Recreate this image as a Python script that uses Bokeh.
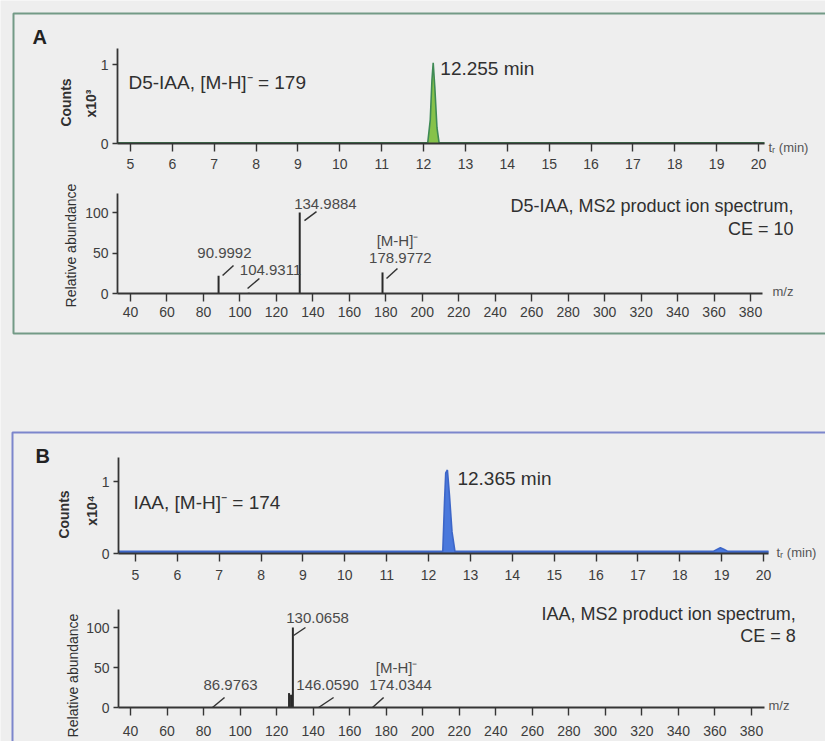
from bokeh.plotting import figure
from bokeh.models import Range1d, LinearAxis, FixedTicker, ColumnDataSource
from bokeh.core.properties import value
from bokeh.embed import file_html
from bokeh.resources import INLINE

# ---------------- data ----------------
# Panel A : D5-IAA chromatogram (Counts x10^3)
chromA_time = [4.69, 12.10, 12.16, 12.20, 12.23, 12.27, 12.32, 12.37, 20.14]
chromA_counts = [0.01, 0.01, 0.30, 0.80, 1.02, 0.70, 0.20, 0.01, 0.01]
# Panel A : MS2 product ion spectrum
specA_mz = [88.3, 104.9, 132.8, 178.2]
specA_rel = [22, 0.8, 100, 26]
specA_label_text = ["90.9992", "104.9311", "134.9884", "[M-H]⁻", "178.9772"]
specA_label_mz = [91.5, 116.8, 146.9, 186.4, 188.0]
specA_label_rel = [50.6, 29.6, 111.0, 65.4, 44.4]
specA_lead_mz0 = [90.5, 104.2, 135.4, 180.4]
specA_lead_rel0 = [22.2, 6.2, 90.0, 18.5]
specA_lead_mz1 = [96.5, 110.7, 142.0, 186.4]
specA_lead_rel1 = [34.6, 18.5, 101.0, 30.9]

# Panel B : IAA chromatogram (Counts x10^4)
chromB_time = [4.60, 12.34, 12.38, 12.41, 12.45, 12.50, 12.56, 12.63,
               18.80, 18.90, 18.97, 19.05, 19.15, 20.12]
chromB_counts = [0.03, 0.03, 0.70, 1.12, 1.16, 0.80, 0.30, 0.03,
                 0.03, 0.06, 0.08, 0.06, 0.03, 0.03]
# Panel B : MS2 product ion spectrum
specB_mz = [86.98, 126.8, 127.9, 128.9, 146.06, 174.03]
specB_rel = [0.5, 18, 16, 100, 0.5, 0.5]
specB_label_text = ["130.0658", "86.9763", "146.0590", "[M-H]⁻", "174.0344"]
specB_label_mz = [142.4, 94.8, 147.9, 185.7, 187.9]
specB_label_rel = [112.5, 28.75, 28.75, 50.0, 28.75]
specB_lead_mz0 = [129.3, 84.9, 143.0, 172.5]
specB_lead_rel0 = [90.0, 0.0, 0.0, 0.0]
specB_lead_mz1 = [135.8, 91.5, 151.2, 178.6]
specB_lead_rel1 = [100.0, 12.5, 12.5, 12.5]

time_ticks = list(range(5, 21))
mz_ticks = list(range(40, 381, 20))
count_ticks = [0, 1]
rel_ticks = [0, 50, 100]

# ---------------- layout / style ----------------
W, H = 825, 741
BG = "#eeeeee"
FONT = "Liberation Sans"
AX = "#353535"
TXT = "#303030"

# (value0, px0, value1, px1) anchors for each sub-plot
GEOM = {
    "A_chrom": dict(x=(5, 130, 20, 758), y=(0, 143, 1, 64), xpx=(117, 764), ytop=48,
                    stand=7),
    "A_spec": dict(x=(40, 130, 380, 750), y=(0, 293, 100, 212), xpx=(117, 762), ytop=193,
                   stand=5),
    "B_chrom": dict(x=(5, 135, 20, 763), y=(0, 553, 1, 481), xpx=(118, 768), ytop=457,
                    stand=8),
    "B_spec": dict(x=(40, 130, 380, 751), y=(0, 707, 100, 627), xpx=(118, 764), ytop=609,
                   stand=10),
}


def xmap(g):
    v0, p0, v1, p1 = g["x"]
    s = (p1 - p0) / (v1 - v0)
    return lambda px: v0 + (px - p0) / s


def ymap(g):
    v0, p0, v1, p1 = g["y"]
    s = (p0 - p1) / (v1 - v0)
    return lambda py: v0 + (p0 - py) / s


p = figure(width=W, height=H, x_range=Range1d(0, W), y_range=Range1d(H, 0),
           x_axis_type=None, y_axis_type=None, output_backend="svg",
           toolbar_location=None, min_border=0, background_fill_color=BG,
           border_fill_color=BG, outline_line_color=None)

for key, g in GEOM.items():
    fx, fy = xmap(g), ymap(g)
    p.extra_x_ranges[key] = Range1d(fx(0), fx(W))
    p.extra_y_ranges[key] = Range1d(fy(H), fy(0))


def add_axes(key, xticks, yticks):
    g = GEOM[key]
    fx, fy = xmap(g), ymap(g)
    xb = (fx(g["xpx"][0]), fx(g["xpx"][1]))
    yb = (0, fy(g["ytop"]))
    xa = LinearAxis(x_range_name=key, y_range_name=key, fixed_location=0, bounds=xb,
                    ticker=FixedTicker(ticks=xticks))
    ya = LinearAxis(x_range_name=key, y_range_name=key, fixed_location=xb[0], bounds=yb,
                    ticker=FixedTicker(ticks=yticks))
    for a, tout, st in ((xa, 8, g["stand"]), (ya, 5, 4)):
        a.axis_line_color = AX
        a.axis_line_width = 1.8
        a.major_tick_line_color = AX
        a.major_tick_line_width = 1.4
        a.major_tick_out = tout
        a.major_tick_in = 0
        a.minor_tick_out = 0
        a.minor_tick_in = 0
        a.major_label_standoff = st
        a.major_label_text_font = FONT
        a.major_label_text_font_size = "14px"
        a.major_label_text_color = "#3d3d3d"
    p.add_layout(xa, "below")
    p.add_layout(ya, "left")


# panel frames (page decoration)
p.quad(left=[13], right=[835], top=[13], bottom=[333], fill_color=None,
       line_color="#739a86", line_width=2)
p.quad(left=[12], right=[835], top=[432], bottom=[760], fill_color=None,
       line_color="#7c86cc", line_width=2)

# ---- chromatograms ----
srcA = ColumnDataSource(dict(t=chromA_time, c=chromA_counts))
p.varea(x="t", y1=0, y2="c", source=srcA, fill_color="#86c24a",
        x_range_name="A_chrom", y_range_name="A_chrom")
p.line(x="t", y="c", source=srcA, line_color="#3f8a55", line_width=1.6,
       x_range_name="A_chrom", y_range_name="A_chrom")

srcB = ColumnDataSource(dict(t=chromB_time, c=chromB_counts))
p.varea(x="t", y1=0, y2="c", source=srcB, fill_color="#4a78dc",
        x_range_name="B_chrom", y_range_name="B_chrom")
p.line(x="t", y="c", source=srcB, line_color="#3d66c8", line_width=1.6,
       x_range_name="B_chrom", y_range_name="B_chrom")

# ---- spectra ----
for key, mz, rel in (("A_spec", specA_mz, specA_rel), ("B_spec", specB_mz, specB_rel)):
    p.segment(x0=mz, y0=[0] * len(mz), x1=mz, y1=rel, line_color="#2a2a2a",
              line_width=2, x_range_name=key, y_range_name=key)

for key, x0, y0, x1, y1 in (
        ("A_spec", specA_lead_mz0, specA_lead_rel0, specA_lead_mz1, specA_lead_rel1),
        ("B_spec", specB_lead_mz0, specB_lead_rel0, specB_lead_mz1, specB_lead_rel1)):
    p.segment(x0=x0, y0=y0, x1=x1, y1=y1, line_color="#333333", line_width=1.5,
              x_range_name=key, y_range_name=key)

for key, txts, xs, ys in (("A_spec", specA_label_text, specA_label_mz, specA_label_rel),
                          ("B_spec", specB_label_text, specB_label_mz, specB_label_rel)):
    p.text(x=xs, y=ys, text=txts, text_font=value(FONT), text_font_size="15px",
           text_color="#4a4a4a", text_align="center", text_baseline="middle",
           x_range_name=key, y_range_name=key)

add_axes("A_chrom", time_ticks, count_ticks)
add_axes("A_spec", mz_ticks, rel_ticks)
add_axes("B_chrom", time_ticks, count_ticks)
add_axes("B_spec", mz_ticks, rel_ticks)


def txt(key, x, y, s, size="18px", align="left", color=TXT, style="normal", angle=0):
    kw = {}
    if key is not None:
        kw = dict(x_range_name=key, y_range_name=key)
    p.text(x=[x], y=[y], text=[s], text_font=value(FONT), text_font_size=size,
           text_color=color, text_align=align, text_baseline="middle",
           text_font_style=style, angle=angle, angle_units="deg", **kw)


# chromatogram annotations (data coordinates)
txt("A_chrom", 4.95, 0.77, "D5-IAA, [M-H]⁻ = 179", size="19px")
txt("A_chrom", 12.40, 0.95, "12.255 min", size="19px")
txt("B_chrom", 4.95, 0.71, "IAA, [M-H]⁻ = 174", size="19px")
txt("B_chrom", 12.69, 1.04, "12.365 min", size="19px")
# spectrum titles
txt("A_spec", 403.6, 108.6, "D5-IAA, MS2 product ion spectrum,", align="right")
txt("A_spec", 403.6, 80.2, "CE = 10", align="right")
txt("B_spec", 404.2, 117.5, "IAA, MS2 product ion spectrum,", align="right")
txt("B_spec", 404.2, 90.0, "CE = 8", align="right")

# page-level labels (pixel coordinates of the page)
txt(None, 32, 36, "A", size="20px", style="bold", color="#222222")
txt(None, 35, 455, "B", size="20px", style="bold", color="#222222")
txt(None, 65, 102, "Counts", size="14px", align="center", angle=90, style="bold")
txt(None, 90, 103, "x10³", size="14px", align="center", angle=90, style="bold")
txt(None, 70, 245, "Relative abundance", size="14px", align="center", angle=90)
txt(None, 63, 514, "Counts", size="14px", align="center", angle=90, style="bold")
txt(None, 91, 510, "x10⁴", size="14px", align="center", angle=90, style="bold")
txt(None, 72, 675, "Relative abundance", size="14px", align="center", angle=90)
txt(None, 768, 147, "tᵣ (min)", size="13px", color="#555555")
txt(None, 772, 291, "m/z", size="13px", color="#555555")
txt(None, 776, 552, "tᵣ (min)", size="13px", color="#555555")
txt(None, 768, 705, "m/z", size="13px", color="#555555")

open("out.html", "w").write(file_html(p, INLINE))
